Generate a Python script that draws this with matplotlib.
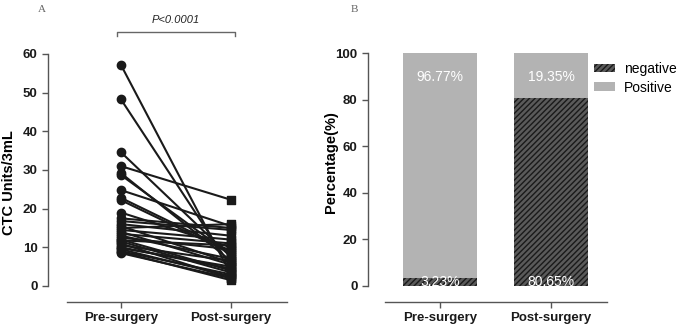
import matplotlib
matplotlib.use("Agg")
import matplotlib.pyplot as plt
from matplotlib.patches import Patch

plt.rcParams['font.family'] = ['Liberation Sans', 'DejaVu Sans']
plt.rcParams['hatch.linewidth'] = 1.0

# Panel A: paired CTC counts (units/3mL)
groups = ["Pre-surgery", "Post-surgery"]
pre = [57.2, 48.3, 34.6, 31.0, 29.2, 28.7, 24.8, 22.8, 22.2, 19.0, 17.5,
       16.8, 16.0, 15.5, 15.0, 14.5, 14.0, 13.5, 13.0, 12.5, 12.0, 11.8,
       11.5, 11.0, 10.5, 10.0, 9.8, 9.5, 9.0, 8.8, 8.5]
post = [3.0, 5.0, 7.5, 22.3, 6.5, 8.0, 15.5, 9.0, 8.5, 10.0, 15.0,
        14.5, 13.0, 6.0, 16.0, 12.0, 5.5, 11.0, 7.0, 9.5, 4.0, 10.5,
        3.5, 2.0, 6.5, 4.5, 5.0, 2.5, 3.0, 1.5, 2.0]

# Panel B: percentage negative / positive
negative = [3.23, 80.65]
positive = [96.77, 19.35]

spine_col = "#555555"
fig = plt.figure(figsize=(6.79, 3.29), dpi=100)

# ---- Panel A ----
ax1 = fig.add_axes([67 / 679, 1 - 302 / 329, 220 / 679, 248 / 329])
for a, b in zip(pre, post):
    ax1.plot([0, 1], [a, b], color="#1a1a1a", lw=1.5, zorder=2)
ax1.scatter([0] * len(pre), pre, marker="o", s=36, color="#1a1a1a", zorder=3)
ax1.scatter([1] * len(post), post, marker="s", s=36, color="#1a1a1a", zorder=3)
ax1.set_xlim(-0.49, 1.51)
ax1.set_ylim(-4.14, 60)
ax1.set_yticks(range(0, 61, 10))
ax1.set_xticks([0, 1])
ax1.set_xticklabels(groups)
ax1.set_ylabel("CTC Units/3mL", fontsize=10.5, fontweight="bold")
ax1.yaxis.set_label_coords(-0.23, 0.48)

# ---- Panel B ----
ax2 = fig.add_axes([385 / 679, 1 - 302 / 329, 222 / 679, 249 / 329])
x = [0, 1]
ax2.bar(x, negative, width=0.667, color="#5a5a5a", edgecolor="#1a1a1a",
        hatch="//////", linewidth=0, label="negative")
ax2.bar(x, positive, bottom=negative, width=0.667, color="#b3b3b3",
        linewidth=0, label="Positive")
for i in x:
    ax2.text(i, 1.8, f"{negative[i]:.2f}%", ha="center", va="center",
             color="white", fontsize=10)
    ax2.text(i, 89.7, f"{positive[i]:.2f}%", ha="center", va="center",
             color="white", fontsize=10)
ax2.set_xlim(-0.495, 1.505)
ax2.set_ylim(-6.87, 100)
ax2.set_yticks(range(0, 101, 20))
ax2.set_xticks(x)
ax2.set_xticklabels(groups)
ax2.set_ylabel("Percentage(%)", fontsize=10.5, fontweight="bold")
ax2.yaxis.set_label_coords(-0.21, 0.56)
handles = [Patch(facecolor="#5a5a5a", edgecolor="#1a1a1a", hatch="//////", linewidth=0),
           Patch(facecolor="#b3b3b3", linewidth=0)]
ax2.legend(handles, ["negative", "Positive"], loc="upper left",
           bbox_to_anchor=(0.94, 0.965), frameon=False, fontsize=10,
           handlelength=1.5, handleheight=0.55, handletextpad=0.7,
           labelspacing=0.35, borderaxespad=0, borderpad=0)

# spine offsets in points (19px and 17px at 100 dpi)
for ax, off, top in [(ax1, 13.7, 60), (ax2, 12.2, 100)]:
    ax.spines["top"].set_visible(False)
    ax.spines["right"].set_visible(False)
    ax.spines["left"].set_position(("outward", off))
    ax.spines["left"].set_bounds(0, top)
    for s in ("left", "bottom"):
        ax.spines[s].set_color(spine_col)
        ax.spines[s].set_linewidth(1.0)
    ax.tick_params(axis="both", colors=spine_col, length=4, width=1.0,
                   labelcolor="#1a1a1a", labelsize=9.5)
    for lab in ax.get_xticklabels() + ax.get_yticklabels():
        lab.set_fontweight("bold")

# significance bracket
fig.lines.append(plt.Line2D([117 / 679, 117 / 679, 235 / 679, 235 / 679],
                            [1 - 36 / 329, 1 - 32 / 329, 1 - 32 / 329, 1 - 36 / 329],
                            transform=fig.transFigure, color="#666666", lw=1.0))
fig.text(176 / 679, 1 - 20 / 329, "P<0.0001", ha="center", va="center",
         fontsize=8, style="italic", color="#222222")

fig.text(42 / 679, 1 - 10 / 329, "A", fontsize=8, family="Liberation Serif",
         color="#666666", ha="center", va="center")
fig.text(354 / 679, 1 - 10 / 329, "B", fontsize=8, family="Liberation Serif",
         color="#666666", ha="center", va="center")

fig.savefig("out.png", dpi=100)
